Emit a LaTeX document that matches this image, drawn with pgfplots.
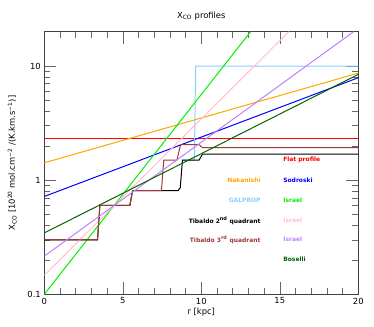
\documentclass[border=0pt]{standalone}
\usepackage{fontspec}
\setmainfont{DejaVu Sans}
\usepackage{pgfplots}
\pgfplotsset{compat=1.18}
\definecolor{nakan}{HTML}{FFA500}
\definecolor{galp}{HTML}{87CEFA}
\definecolor{isrA}{HTML}{00F000}
\definecolor{isrB}{HTML}{FFC0CB}
\definecolor{isrC}{HTML}{BF80FF}
\definecolor{bosel}{HTML}{006400}
\definecolor{tibth}{HTML}{A0363A}
\begin{document}
\begin{tikzpicture}
\begin{axis}[
  scale only axis, width=314bp, height=262.6bp,
  xmin=0, xmax=20, ymin=0.1, ymax=20, ymode=log,
  xtick={0,5,10,15,20}, minor x tick num=4,
  ytick={0.1,1,10}, yticklabels={0.1,1,10},
  tick align=inside, major tick length=12bp, minor tick length=6bp,
  tick style={draw=black!60, line width=0.5pt},
  axis line style={draw=black!75, line width=0.6pt},
  xtick pos=both, ytick pos=both,
  xticklabel pos=bottom, yticklabel pos=left,
  ticklabel style={font=\fontsize{8.4}{10}\selectfont},
  /pgf/number format/assume math mode=true,
  xlabel={r [kpc]},
  ylabel={X\textsubscript{CO} [10\textsuperscript{20} mol.cm\textsuperscript{−2} /(K.km.s\textsuperscript{−1})]},
  label style={font=\fontsize{8.4}{10}\selectfont},
  xlabel style={yshift=3bp},
  ylabel style={yshift=4bp},
  every axis plot/.append style={line width=1pt},
]
% Flat profile
\addplot[red, line width=1.2pt] coordinates {(0,2.3) (20,2.3)};
% Nakanishi
\addplot[nakan] coordinates {(0,1.42) (20,8.67)};
% Sodroski
\addplot[blue] coordinates {(0,0.72) (20,7.9)};
% GALPROP
\addplot[galp] coordinates {(8.8,1.5) (9.56,1.5) (9.64,10) (20,10)};
% Israel (green)
\addplot[isrA] coordinates {(0,0.1) (13.14,20)};
% Tibaldo 2nd quadrant
\addplot[black] coordinates {(0,0.3) (3.39,0.3) (3.54,0.6) (5.45,0.6) (5.62,0.81) (8.52,0.81) (8.66,0.86) (8.8,1.5) (9.86,1.5) (10.07,1.69) (20,1.69)};
% Israel (pink)
\addplot[isrB] coordinates {(0,0.147) (15.58,20)};
% Tibaldo 3rd quadrant
\addplot[tibth] coordinates {(0,0.3) (3.39,0.3) (3.54,0.6) (5.45,0.6) (5.62,0.81) (7.46,0.81) (7.61,1.5) (8.45,1.5) (8.68,2.05) (9.86,2.05) (10.07,1.93) (20,1.93)};
% Israel (lavender)
\addplot[isrC] coordinates {(0,0.216) (19.7,20)};
% Boselli
\addplot[bosel] coordinates {(0,0.345) (20,8.45)};
% legend as coloured text
\begin{scope}[font=\fontsize{6}{7}\selectfont\bfseries]
\node[anchor=west, text=red]   at (axis cs:15,1.52)  {Flat profile};
\node[anchor=east, text=nakan] at (axis cs:14,1.0)   {Nakanishi};
\node[anchor=west, text=blue]  at (axis cs:15,1.0)   {Sodroski};
\node[anchor=east, text=galp]  at (axis cs:14,0.664) {GALPROP};
\node[anchor=west, text=isrA]  at (axis cs:15,0.664) {Israel};
\node[anchor=east, text=black] at (axis cs:14,0.442) {Tibaldo 2\textsuperscript{nd} quadrant};
\node[anchor=west, text=isrB]  at (axis cs:15,0.442) {Israel};
\node[anchor=east, text=tibth] at (axis cs:14,0.302) {Tibaldo 3\textsuperscript{rd} quadrant};
\node[anchor=west, text=isrC]  at (axis cs:15,0.302) {Israel};
\node[anchor=west, text=bosel] at (axis cs:15,0.202) {Boselli};
\end{scope}
\end{axis}
\node[font=\fontsize{8.4}{10}\selectfont] at (157bp,278.6bp) {X\textsubscript{CO} profiles};
\path (-44.3bp,-32.7bp) rectangle (329.7bp,294.3bp);
\end{tikzpicture}
\end{document}
